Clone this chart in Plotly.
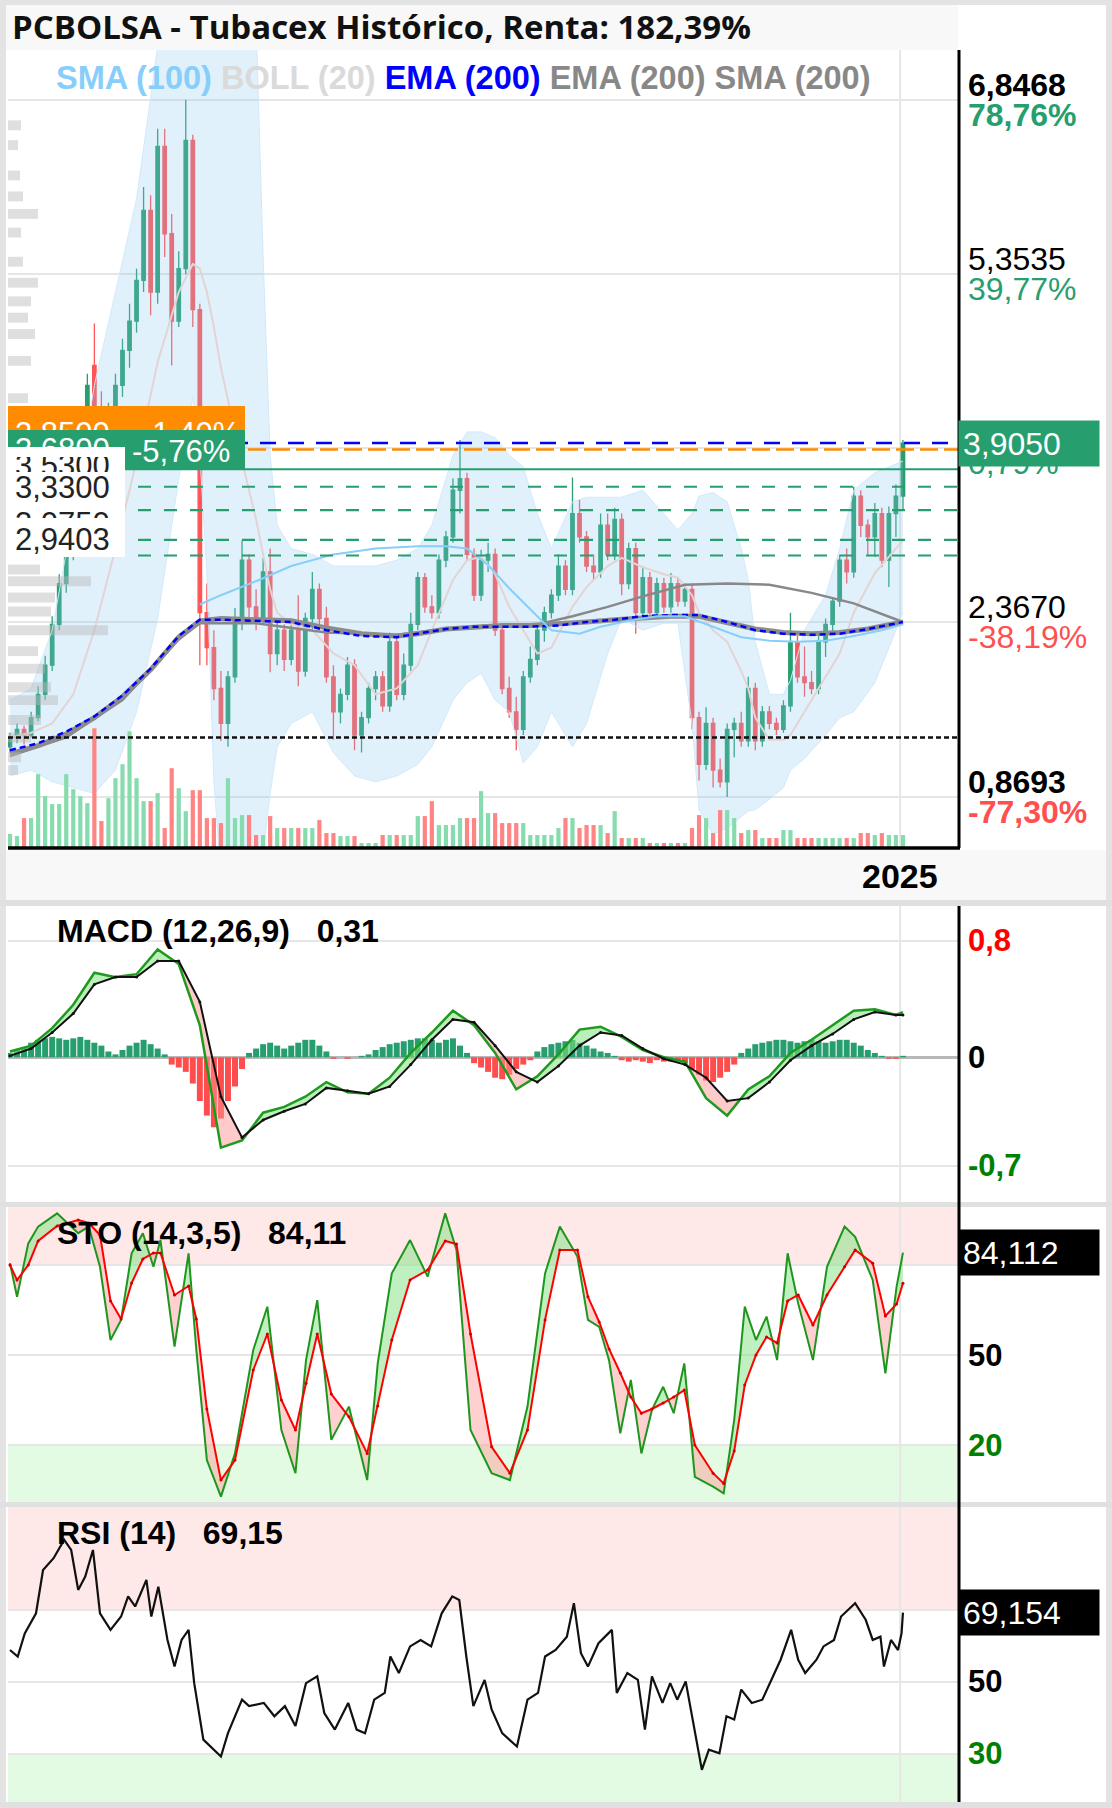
import plotly.graph_objects as go

W, H = 1112, 1808
XL, XR = 8, 958

# ---------------- data ----------------
idx = list(range(128))
open_ = [1.30,1.38,1.45,1.40,1.55,1.75,2.00,2.35,2.70,2.95,
         3.20,3.50,4.57,4.20,4.05,4.15,4.40,4.70,4.95,5.30,
         5.90,5.20,6.45,5.70,4.95,5.40,6.50,5.05,2.45,2.15,
         1.80,1.50,1.90,2.40,2.90,2.50,2.40,2.80,2.10,2.30,
         2.05,2.30,1.95,2.40,2.65,2.40,1.90,1.60,1.75,2.00,
         1.40,1.55,1.80,1.90,1.65,2.20,1.75,2.00,2.35,2.75,
         2.50,2.45,2.90,3.10,3.50,3.60,2.95,2.60,2.90,2.95,
         2.30,1.80,1.60,1.45,1.90,2.05,2.30,2.45,2.60,2.85,
         2.65,3.30,3.10,2.85,2.80,3.20,2.95,3.25,2.70,3.00,
         2.45,2.75,2.45,2.70,2.50,2.70,2.55,2.65,1.55,1.15,
         1.50,1.10,1.00,1.45,1.50,1.35,1.80,1.35,1.60,1.50,
         1.45,1.65,2.20,1.90,1.85,1.80,2.20,2.35,2.55,2.90,
         2.80,3.45,3.20,3.10,3.30,2.90,3.30,3.45]
high = [1.42,1.50,1.48,1.60,1.82,2.08,2.42,2.78,3.02,3.30,
        3.60,4.50,4.93,4.35,4.25,4.50,4.80,5.10,5.40,6.10,
        6.03,6.60,6.60,5.87,5.55,6.85,6.55,5.10,2.70,2.30,
        1.95,1.95,2.49,3.07,2.95,2.65,2.92,3.00,2.40,2.35,
        2.40,2.60,2.45,2.80,2.70,2.50,2.00,1.80,2.07,2.05,
        1.60,1.85,1.95,1.95,2.28,2.25,2.10,2.45,2.80,2.79,
        2.60,2.95,3.15,3.60,3.93,3.65,3.00,2.99,3.05,3.00,
        2.35,1.90,1.73,1.95,2.16,2.35,2.50,2.65,2.95,2.90,
        3.61,3.42,3.15,2.95,3.30,3.30,3.35,3.30,3.05,3.05,
        2.85,2.80,2.75,2.75,2.79,2.75,2.70,2.70,1.60,1.64,
        1.55,1.20,1.50,1.55,1.60,1.90,1.85,1.65,1.65,1.55,
        1.70,2.45,2.25,2.16,1.95,2.25,2.40,2.58,2.95,3.00,
        3.53,3.50,3.25,3.39,3.35,3.36,3.55,3.93]
low = [1.25,1.33,1.32,1.38,1.52,1.70,1.95,2.30,2.62,2.90,
       3.12,3.42,4.15,3.95,3.90,4.05,4.30,4.55,4.85,5.20,
       5.00,5.10,5.50,4.57,4.90,5.35,4.90,2.00,2.00,1.70,
       1.35,1.30,1.85,2.30,2.40,2.30,2.35,1.94,2.00,1.95,
       2.00,1.82,1.90,2.30,2.30,1.85,1.36,1.50,1.70,1.27,
       1.25,1.50,1.70,1.60,1.60,1.70,1.70,1.95,2.30,2.45,
       2.40,2.40,2.84,3.05,3.30,2.90,2.55,2.55,2.80,2.25,
       1.75,1.55,1.27,1.40,1.85,2.00,2.20,2.40,2.55,2.60,
       2.60,3.05,2.80,2.73,2.75,2.90,2.90,2.60,2.65,2.27,
       2.40,2.40,2.40,2.45,2.45,2.50,2.50,1.45,1.01,1.10,
       0.95,0.95,0.87,1.21,1.30,1.30,1.27,1.30,1.45,1.40,
       1.42,1.60,1.85,1.73,1.75,1.75,2.07,2.27,2.50,2.70,
       2.75,3.10,2.95,2.93,2.84,2.67,3.10,3.33]
close = [1.38,1.45,1.40,1.55,1.75,2.00,2.35,2.70,2.95,3.20,
         3.50,4.40,4.20,4.05,4.15,4.40,4.70,4.95,5.30,5.90,
         5.20,6.45,5.70,4.95,5.40,6.50,5.05,2.45,2.15,1.80,
         1.50,1.90,2.40,2.90,2.50,2.40,2.80,2.10,2.30,2.05,
         2.30,1.95,2.40,2.65,2.40,1.90,1.60,1.75,2.00,1.40,
         1.55,1.80,1.90,1.65,2.20,1.75,2.00,2.35,2.75,2.50,
         2.45,2.90,3.10,3.50,3.60,2.95,2.60,2.90,2.95,2.30,
         1.80,1.60,1.45,1.90,2.05,2.30,2.45,2.60,2.85,2.65,
         3.30,3.10,2.85,2.80,3.20,2.95,3.25,2.70,3.00,2.45,
         2.75,2.45,2.70,2.50,2.70,2.55,2.65,1.55,1.15,1.50,
         1.10,1.00,1.45,1.50,1.35,1.80,1.35,1.60,1.50,1.45,
         1.65,2.20,1.90,1.85,1.80,2.20,2.35,2.55,2.90,2.80,
         3.45,3.20,3.10,3.30,2.90,3.30,3.45,3.905]
volume = [1.4,1.2,3.0,3.0,7.4,5.2,4.4,4.4,7.4,5.9,
          5.2,4.5,12.0,2.7,5.0,7.0,8.4,11.7,7.0,4.7,
          4.7,5.5,2.0,8.0,6.0,3.7,5.8,5.8,3.0,3.0,
          2.5,7.0,3.0,3.3,3.3,1.3,1.3,3.2,2.0,2.0,
          2.0,2.0,2.0,2.0,2.8,1.5,1.5,1.2,1.2,1.2,
          0.5,0.5,0.5,1.3,1.3,1.3,1.3,1.3,3.2,3.2,
          4.7,2.3,2.3,2.3,3.0,3.0,3.0,5.7,3.5,3.5,
          2.5,2.5,2.5,2.5,1.3,1.3,1.3,1.3,2.0,3.0,
          3.0,2.0,2.3,2.3,2.3,1.5,3.7,1.0,1.0,1.0,
          1.0,0.5,0.5,0.5,0.5,0.5,0.5,2.0,3.3,3.0,
          1.5,3.8,3.8,3.0,1.5,1.8,1.8,1.0,1.0,1.0,
          1.8,1.8,1.0,1.0,1.0,1.0,1.0,1.0,1.0,1.0,
          1.0,1.5,1.5,1.3,1.5,1.3,1.3,1.3]

# volume-by-price profile (left edge)
vp_price = [6.63,6.46,6.20,6.02,5.87,5.71,5.46,5.28,5.12,4.98,4.84,4.61,4.29,
            2.82,2.72,2.58,2.46,2.30,2.12,1.97,1.81,1.70,1.53,1.38,1.21,1.10]
vp_size = [13,10,12,15,30,13,15,30,23,20,27,23,20,
           32,83,47,43,100,30,37,43,50,33,23,13,10]

# Bollinger (20)
boll_x = [0,3,6,9,12,15,18,21,24,26,27,28,29,30,32,34,35,36,37,38,40,43,46,49,52,55,58,60,63,65,67,69,71,73,75,77,80,82,85,87,90,93,95,97,98,100,102,104,105,106,108,110,111,113,116,118,120,123,127]
boll_up = [1.70,1.80,2.30,3.30,4.40,5.20,6.00,7.30,7.60,7.60,7.70,7.90,8.00,8.00,8.00,7.90,7.50,5.50,3.80,3.20,3.00,2.95,2.85,2.85,2.85,2.90,3.00,3.20,3.80,4.00,4.00,3.95,3.80,3.70,3.30,3.00,3.40,3.44,3.44,3.44,3.50,3.30,3.16,3.30,3.45,3.48,3.40,3.00,2.73,2.20,1.75,1.75,1.87,2.30,2.60,3.00,3.50,3.65,3.75]
boll_lo = [1.05,1.10,1.00,0.95,0.90,1.10,1.60,2.40,3.60,4.30,3.80,2.80,1.00,0.20,0.00,0.10,0.20,0.40,0.90,1.30,1.50,1.60,1.25,1.05,1.00,1.05,1.15,1.30,1.70,1.85,1.93,1.70,1.60,1.16,1.30,1.60,1.30,1.50,2.10,2.40,2.30,2.36,2.36,1.50,0.76,0.55,0.60,0.70,0.75,0.76,0.85,0.95,1.10,1.20,1.40,1.55,1.60,1.85,2.45]
boll_mid = [1.38,1.42,1.50,1.75,2.30,3.00,3.75,4.60,5.20,5.44,5.40,5.20,4.90,4.55,4.00,3.50,3.25,2.95,2.65,2.45,2.35,2.30,2.10,2.00,1.75,1.80,2.00,2.30,2.73,2.90,2.93,2.78,2.50,2.30,2.10,2.15,2.50,2.67,2.85,2.92,2.84,2.78,2.75,2.60,2.45,2.30,2.20,1.95,1.80,1.55,1.36,1.36,1.40,1.60,1.90,2.10,2.45,2.79,3.07]

# SMA (100)
sma100_x = [27,30,35,40,46,52,58,62,65,68,71,74,77,81,84,88,92,96,100,104,108,112,116,120,124,127]
sma100 = [2.52,2.60,2.72,2.85,2.95,3.00,3.02,3.02,3.00,2.86,2.66,2.48,2.30,2.27,2.33,2.38,2.42,2.42,2.33,2.24,2.21,2.20,2.21,2.25,2.30,2.35]
# EMA (200) blue and grey
ema_x = [0,4,8,12,16,20,24,27,30,35,40,45,50,55,58,62,66,70,74,78,82,86,90,94,98,102,106,110,114,118,122,127]
ema_blue = [1.27,1.33,1.43,1.56,1.74,1.97,2.25,2.39,2.39,2.38,2.37,2.30,2.25,2.24,2.27,2.31,2.33,2.33,2.33,2.34,2.37,2.39,2.42,2.43,2.43,2.37,2.30,2.27,2.26,2.27,2.31,2.37]
ema_grey = [1.24,1.31,1.41,1.55,1.73,1.96,2.24,2.38,2.40,2.39,2.38,2.32,2.27,2.25,2.27,2.31,2.33,2.34,2.34,2.35,2.37,2.39,2.41,2.42,2.42,2.37,2.31,2.28,2.27,2.28,2.31,2.37]
# SMA (200)
sma200_x = [0,8,16,24,27,35,45,55,62,68,75,80,85,90,96,102,108,114,120,124,127]
sma200 = [1.22,1.38,1.70,2.22,2.36,2.36,2.28,2.26,2.31,2.34,2.35,2.42,2.50,2.59,2.69,2.70,2.69,2.62,2.53,2.44,2.37]

# horizontal levels
level_last = 3.905
level_orange = 3.85
level_green = 3.68
levels_dashed = [3.53, 3.33, 3.075, 2.9403]
level_black = 1.38

# right price axis
price_ticks = [6.8468, 5.3535, 3.8601, 2.3670, 0.8693]
price_labels = ["6,8468", "5,3535", "3,8601", "2,3670", "0,8693"]
pct_labels = ["78,76%", "39,77%", "0,79%", "-38,19%", "-77,30%"]

# MACD (12,26,9)
osc_x = [0,3,6,9,12,15,18,21,24,27,30,33,36,39,42,45,48,51,54,57,60,63,66,69,72,75,78,81,84,87,90,93,96,99,102,105,108,111,114,117,120,123,126,127]
macd = [0.04,0.08,0.20,0.36,0.58,0.55,0.57,0.74,0.64,0.22,-0.62,-0.57,-0.38,-0.34,-0.27,-0.17,-0.24,-0.25,-0.14,0.03,0.17,0.32,0.22,0.03,-0.22,-0.13,0.02,0.19,0.21,0.14,0.05,0.00,-0.03,-0.28,-0.40,-0.22,-0.13,0.03,0.12,0.22,0.32,0.33,0.29,0.31]
signal = [0.01,0.06,0.17,0.30,0.50,0.55,0.55,0.66,0.66,0.38,-0.27,-0.55,-0.43,-0.37,-0.32,-0.21,-0.23,-0.25,-0.20,-0.05,0.12,0.26,0.24,0.08,-0.10,-0.17,-0.06,0.08,0.17,0.15,0.06,-0.01,-0.05,-0.14,-0.30,-0.28,-0.17,-0.02,0.08,0.16,0.26,0.31,0.29,0.29]
macd_hist = [0.03,0.05,0.07,0.10,0.12,0.13,0.14,0.13,0.12,0.13,0.14,0.12,0.10,0.08,0.04,
             0.02,0.05,0.08,0.10,0.12,0.09,0.06,0.02,
             -0.05,-0.07,-0.10,-0.18,-0.30,-0.40,-0.48,-0.42,-0.30,-0.20,-0.08,
             0.03,0.06,0.09,0.10,0.08,0.06,0.08,0.10,0.12,0.12,0.08,0.04,
             -0.01,0.0,-0.01,0.0,0.01,0.02,
             0.05,0.07,0.09,0.10,0.11,0.12,0.13,0.13,0.12,0.10,0.12,0.13,0.08,0.03,
             -0.04,-0.07,-0.10,-0.14,-0.15,-0.12,-0.08,-0.05,-0.02,
             0.04,0.07,0.09,0.10,0.11,0.12,0.10,0.08,0.06,0.04,0.03,0.01,
             -0.02,-0.03,-0.02,-0.03,-0.04,-0.02,-0.03,-0.03,-0.02,-0.04,-0.08,-0.12,-0.16,-0.17,-0.14,-0.10,-0.05,
             0.03,0.06,0.09,0.10,0.11,0.12,0.12,0.11,0.10,0.11,0.12,0.11,0.10,0.11,0.12,0.12,0.10,0.08,0.05,0.03,0.01,
             -0.01,-0.01,0.01]

# STO (14,3,5)
sto_x = [0,1,2.6,4,6.7,9.7,11.2,12.8,14.3,15.8,17.3,18.9,20.4,21.4,23.4,25.4,26.5,28,30,32,34.6,36.6,38.6,40.6,42.1,43.7,45.7,48.2,50.8,52.3,54.3,56.9,59.4,61.9,63.5,65.5,68.5,71.1,73.6,76.1,78.2,80.7,82.2,83.8,85.2,86.8,88.3,89.8,91.3,92.9,94.4,95.9,97.4,100,101.5,103,104.5,106.1,107.6,109.1,110.6,112.1,114.2,116.2,118.7,120.2,122.7,124.5,126.1,127]
sto_k = [80.6,69.4,87.2,92.8,97.2,90.6,92.8,79.4,55,61.7,83.9,90.6,79.4,88.3,52.8,83.9,51.7,15,2.8,17.2,51.7,66.1,25,10.6,48.3,68.3,21.7,32.8,8.3,47.2,77.2,88.3,76.1,97.2,85,25,10.6,8.3,32.8,77.2,92.8,82.8,61.7,59.4,48.3,23.9,41.7,17.2,31.7,39.4,30.6,47.2,9.4,6.1,3.9,28.3,66.1,55,62.8,48.3,83.9,67.2,48.3,79.4,92.8,89.4,75,43.9,72.8,84.1]
sto_d = [80,75,80,88,93,95,94,90,68,62,74,82,84,84,70,73,62,32,8.3,15,45,57,35,25,40.6,57,37,29.4,17.2,33,55,75,78.3,88,87,57,19.4,10.6,25,61.7,85,85,69.4,61,52,44,36,30.6,32,34,36,38.3,20,10.6,7.2,18,40,50,56,54,68,70,60,70,79.4,85,80.6,63,67,73.9]

# RSI (14)
rsi_x = [0,1.1,2.1,3.7,4.7,6.2,7.7,8.7,9.7,10.7,11.8,12.8,14.3,15.8,16.8,17.8,19.4,20.1,21.1,22.4,23.4,24.4,25.4,26.2,27.5,29,30,31,33,34,36.1,37.6,39.1,40.6,42.1,43.7,44.7,46.2,48.1,49.3,50.5,51.8,53.3,54.1,55.3,56.9,58.4,59.9,61.4,62.9,63.9,64.9,65.9,67.5,68.5,70,72.1,73.6,75.1,76.1,77.6,79.2,80.2,81.2,82.2,83.7,85.6,86.3,87.8,89.3,90.3,91.3,92.8,93.9,94.9,96.1,97.4,98.4,99.4,100.9,101.9,103,104,105.5,107,108.1,109.6,111.1,112.1,113.1,114.7,115.7,117.2,118.2,120.2,121.7,122.7,123.8,124.3,125.3,126.3,126.8,127]
rsi = [58.8,57,63.4,69,81,84.3,89.4,86.6,75.5,79.2,86.6,69,64.4,68.1,73.7,70.9,78.3,68.1,76.4,61.6,54.2,61.6,64.4,49.6,33.9,31.1,29.2,35.7,45,43.2,44.1,40.4,43.2,37.7,49.6,51.5,41.3,36.7,44.1,36.7,35.7,45,46.9,57,52.4,59.8,61.6,59.8,69,73.7,72.7,57,43.2,50.5,42.3,35.7,32,45,46.9,57,58.8,62.5,71.8,57.9,54.2,60.7,64.4,46.9,52.4,50.5,36.7,51.5,44.1,49.6,45,50.1,36.7,25.5,31.1,30.1,40.4,39.5,47.8,44.1,45,49.6,56.1,64.4,56.1,52.4,56.1,59.8,61.6,68.1,71.8,67.2,61.6,62.5,54.2,61.6,58.8,63.4,69.2]

year_tick = 126.6
year_label = "2025"

# ---------------- helpers ----------------
def fx(p):
    return p / W

def fy(p):
    return 1 - p / H

X_RANGE = [-0.284, 134.83]
MAIN_RANGE = [0.4319, 7.2758]
MACD_RANGE = [-0.9925, 1.0377]
STO_RANGE = [1.0, 99.33]
RSI_RANGE = [16.58, 98.53]

GREEN = "#279e6e"
RED = "#ff5555"
FONT = "Liberation Sans"


def fill_polys(xs, a, b):
    gx, gy, rx, ry = [], [], [], []
    for k in range(len(xs) - 1):
        x0, x1 = xs[k], xs[k + 1]
        a0, a1, b0, b1 = a[k], a[k + 1], b[k], b[k + 1]
        d0, d1 = a0 - b0, a1 - b1
        if d0 * d1 < 0:
            t = d0 / (d0 - d1)
            xc = x0 + t * (x1 - x0)
            yc = a0 + t * (a1 - a0)
            parts = [(x0, a0, b0, xc, yc, yc, d0), (xc, yc, yc, x1, a1, b1, d1)]
        else:
            parts = [(x0, a0, b0, x1, a1, b1, d0 + d1)]
        for xa, aa, ba, xb, ab, bb, d in parts:
            pxs = [xa, xb, xb, xa, xa, None]
            pys = [aa, ab, bb, ba, aa, None]
            if d >= 0:
                gx += pxs
                gy += pys
            else:
                rx += pxs
                ry += pys
    return gx, gy, rx, ry


fig = go.Figure()

# ---------------- main panel ----------------
fig.add_trace(go.Scatter(x=boll_x, y=boll_lo, mode="lines", line=dict(color="#d2e9fb", width=1),
                         xaxis="x", yaxis="y", hoverinfo="skip"))
fig.add_trace(go.Scatter(x=boll_x, y=boll_up, mode="lines", line=dict(color="#d2e9fb", width=1),
                         fill="tonexty", fillcolor="rgba(135,200,245,0.25)", xaxis="x", yaxis="y", hoverinfo="skip"))
fig.add_trace(go.Scatter(x=boll_x, y=boll_mid, mode="lines", line=dict(color="#e3d3d3", width=2),
                         xaxis="x", yaxis="y", hoverinfo="skip"))
fig.add_trace(go.Scatter(x=sma200_x, y=sma200, mode="lines", line=dict(color="#888888", width=2.5),
                         xaxis="x", yaxis="y", hoverinfo="skip"))
fig.add_trace(go.Scatter(x=ema_x, y=ema_grey, mode="lines", line=dict(color="#8c8c8c", width=5),
                         xaxis="x", yaxis="y", hoverinfo="skip"))
fig.add_trace(go.Scatter(x=ema_x, y=ema_blue, mode="lines", line=dict(color="#0000ff", width=2.5, dash="6px,4px"),
                         xaxis="x", yaxis="y", hoverinfo="skip"))
fig.add_trace(go.Scatter(x=sma100_x, y=sma100, mode="lines", line=dict(color="#87cefa", width=2),
                         xaxis="x", yaxis="y", hoverinfo="skip"))
fig.add_trace(go.Candlestick(x=idx, open=open_, high=high, low=low, close=close,
                             increasing=dict(line=dict(color=GREEN, width=1.3), fillcolor=GREEN),
                             decreasing=dict(line=dict(color=RED, width=1.3), fillcolor=RED),
                             whiskerwidth=0, xaxis="x", yaxis="y", hoverinfo="skip"))
vol_colors = ["#86dcae" if c >= o else "#ff8585" for o, c in zip(open_, close)]
fig.add_trace(go.Bar(x=idx, y=volume, marker=dict(color=vol_colors, line=dict(width=0)), width=0.6,
                     xaxis="x", yaxis="y2", hoverinfo="skip"))
fig.add_trace(go.Bar(x=vp_size, y=vp_price, orientation="h", width=0.085,
                     marker=dict(color="rgba(185,185,185,0.45)", line=dict(width=0)),
                     xaxis="x2", yaxis="y", hoverinfo="skip"))

# ---------------- MACD ----------------
hist_colors = [GREEN if v >= 0 else "#ff4d4d" for v in macd_hist]
fig.add_trace(go.Bar(x=idx, y=macd_hist, marker=dict(color=hist_colors, line=dict(width=0)), width=0.85,
                     xaxis="x3", yaxis="y3", hoverinfo="skip"))
gx, gy, rx, ry = fill_polys(osc_x, macd, signal)
fig.add_trace(go.Scatter(x=gx, y=gy, fill="toself", fillcolor="rgba(130,225,130,0.55)", mode="lines",
                         line=dict(color="rgba(0,0,0,0)", width=0), xaxis="x3", yaxis="y3", hoverinfo="skip"))
fig.add_trace(go.Scatter(x=rx, y=ry, fill="toself", fillcolor="rgba(255,150,150,0.5)", mode="lines",
                         line=dict(color="rgba(0,0,0,0)", width=0), xaxis="x3", yaxis="y3", hoverinfo="skip"))
fig.add_trace(go.Scatter(x=osc_x, y=macd, mode="lines", line=dict(color="#1e9a1e", width=2.5),
                         xaxis="x3", yaxis="y3", hoverinfo="skip"))
fig.add_trace(go.Scatter(x=osc_x, y=signal, mode="lines+markers", line=dict(color="#111111", width=2),
                         marker=dict(size=3, color="#111111"), xaxis="x3", yaxis="y3", hoverinfo="skip"))

# ---------------- STO ----------------
gx, gy, rx, ry = fill_polys(sto_x, sto_k, sto_d)
fig.add_trace(go.Scatter(x=gx, y=gy, fill="toself", fillcolor="rgba(130,225,130,0.5)", mode="lines",
                         line=dict(color="rgba(0,0,0,0)", width=0), xaxis="x4", yaxis="y4", hoverinfo="skip"))
fig.add_trace(go.Scatter(x=rx, y=ry, fill="toself", fillcolor="rgba(255,150,150,0.45)", mode="lines",
                         line=dict(color="rgba(0,0,0,0)", width=0), xaxis="x4", yaxis="y4", hoverinfo="skip"))
fig.add_trace(go.Scatter(x=sto_x, y=sto_k, mode="lines", line=dict(color="#1e961e", width=2),
                         xaxis="x4", yaxis="y4", hoverinfo="skip"))
fig.add_trace(go.Scatter(x=sto_x, y=sto_d, mode="lines+markers", line=dict(color="#ff0000", width=2),
                         marker=dict(size=3, color="#cc0000"), xaxis="x4", yaxis="y4", hoverinfo="skip"))

# ---------------- RSI ----------------
fig.add_trace(go.Scatter(x=rsi_x, y=rsi, mode="lines", line=dict(color="#111111", width=2.2),
                         xaxis="x5", yaxis="y5", hoverinfo="skip"))

# ---------------- axes ----------------
xcommon = dict(domain=[fx(XL), fx(XR)], range=X_RANGE, showgrid=False, zeroline=False,
               showticklabels=False, ticks="", fixedrange=True)
grid = dict(showticklabels=False, showgrid=True, gridcolor="#e6e6e6", gridwidth=2, zeroline=False,
            ticks="", fixedrange=True)
fig.update_layout(
    width=W, height=H, margin=dict(l=0, r=0, t=0, b=0),
    paper_bgcolor="white", plot_bgcolor="rgba(0,0,0,0)", showlegend=False,
    xaxis=dict(**xcommon, anchor="y", rangeslider=dict(visible=False)),
    yaxis=dict(**grid, domain=[fy(848), fy(50)], range=MAIN_RANGE, tickvals=price_ticks, anchor="x"),
    yaxis2=dict(overlaying="y", range=[0, 80], visible=False, fixedrange=True),
    xaxis2=dict(overlaying="x", range=[0, 950], visible=False, anchor="y", fixedrange=True),
    xaxis3=dict(**xcommon, anchor="y3"),
    yaxis3=dict(showticklabels=False, showgrid=True, gridcolor="#e6e6e6", gridwidth=2, ticks="",
                zeroline=True, zerolinecolor="#b8b8b8", zerolinewidth=3, fixedrange=True,
                domain=[fy(1202), fy(906)], range=MACD_RANGE, tickvals=[0.8, -0.745], anchor="x3"),
    xaxis4=dict(**xcommon, anchor="y4"),
    yaxis4=dict(**grid, domain=[fy(1502), fy(1207)], range=STO_RANGE, tickvals=[20, 50, 80], anchor="x4"),
    xaxis5=dict(**xcommon, anchor="y5"),
    yaxis5=dict(**grid, domain=[fy(1802), fy(1507)], range=RSI_RANGE, tickvals=[30, 50, 70], anchor="x5"),
    barmode="overlay",
)

# ---------------- shapes ----------------
shapes = []

def prect(x0, y0, x1, y1, color, layer="below"):
    shapes.append(dict(type="rect", xref="paper", yref="paper", x0=fx(x0), x1=fx(x1), y0=fy(y1), y1=fy(y0),
                       fillcolor=color, line=dict(width=0), layer=layer))

# frame / backgrounds
prect(0, 0, W, 5, "#e3e3e3")
prect(0, 0, 6, H, "#e3e3e3")
prect(1106, 0, W, H, "#e3e3e3")
prect(6, 5, 958, 50, "#f8f8f8")
prect(6, 850, 1106, 900, "#f8f8f8")
prect(0, 900, W, 906, "#e0e0e0")
prect(0, 1202, W, 1207, "#e0e0e0")
prect(0, 1502, W, 1507, "#e0e0e0")
prect(0, 1802, W, H, "#e0e0e0")

# zones
for yr, lo_, hi_, col in [("y4", 80, STO_RANGE[1], "#ffe8e8"), ("y4", STO_RANGE[0], 20, "#e2fbe2"),
                          ("y5", 70, RSI_RANGE[1], "#ffe8e8"), ("y5", RSI_RANGE[0], 30, "#e2fbe2")]:
    shapes.append(dict(type="rect", xref="paper", yref=yr, x0=fx(XL), x1=fx(XR), y0=lo_, y1=hi_,
                       fillcolor=col, line=dict(width=0), layer="below"))

# year grid line
for y0, y1 in [(50, 848), (906, 1202), (1207, 1502), (1507, 1802)]:
    shapes.append(dict(type="line", xref="x", yref="paper", x0=year_tick, x1=year_tick, y0=fy(y1), y1=fy(y0),
                       line=dict(color="#e6e6e6", width=2), layer="below"))

# level lines
def hline(val, color, dash, width=2.2):
    shapes.append(dict(type="line", xref="paper", yref="y", x0=fx(XL), x1=fx(XR), y0=val, y1=val,
                       line=dict(color=color, width=width, dash=dash), layer="above"))

for v in levels_dashed:
    hline(v, GREEN, "13px,13px")
hline(level_green, GREEN, "solid")
hline(level_orange, "#ff8c00", "18px,6px", 2.5)
hline(level_last, "#0000ff", "16px,12px", 2.5)
hline(level_black, "#111111", "5px,3px", 2.5)

# axis lines
shapes.append(dict(type="line", xref="paper", yref="paper", x0=fx(959), x1=fx(959), y0=fy(848), y1=fy(50),
                   line=dict(color="black", width=3), layer="above"))
shapes.append(dict(type="line", xref="paper", yref="paper", x0=fx(959), x1=fx(959), y0=fy(1802), y1=fy(906),
                   line=dict(color="black", width=3), layer="above"))
shapes.append(dict(type="line", xref="paper", yref="paper", x0=fx(XL), x1=fx(960), y0=fy(848), y1=fy(848),
                   line=dict(color="black", width=3.5), layer="above"))
fig.update_layout(shapes=shapes)

# ---------------- annotations ----------------
ann = []

def text(xp, yp, s, size=31, color="#111", bold=False, family=FONT, xanchor="left", weight=None):
    ann.append(dict(xref="paper", yref="paper", x=fx(xp), y=fy(yp), text=s, showarrow=False,
                    xanchor=xanchor, yanchor="middle",
                    font=dict(family=family, size=size, color=color,
                              weight=weight if weight else ("bold" if bold else "normal"))))

def box(x0, y0, x1, y1, bg):
    ann.append(dict(xref="paper", yref="paper", x=fx(x0), y=fy(y0), xanchor="left", yanchor="top",
                    width=x1 - x0, height=y1 - y0, bgcolor=bg, text="", showarrow=False,
                    borderpad=0, borderwidth=0))

# title and legend
text(10, 27, "PCBOLSA - Tubacex Histórico, Renta: 182,39%", size=33, color="#111", family="Open Sans", weight=700)
legend = ('<span style="color:#87cefa">SMA (100)</span> '
          '<span style="color:#dadada">BOLL (20)</span> '
          '<span style="color:#0000ff">EMA (200)</span> '
          '<span style="color:#888888">EMA (200)</span> '
          '<span style="color:#888888">SMA (200)</span>')
text(54, 78, legend, size=32.5, bold=True)

# right price labels
for v, pl, pc in zip(price_ticks, price_labels, pct_labels):
    b = v in (price_ticks[0], price_ticks[-1])
    pcol = GREEN if not pc.startswith("-") else "#ff5050"
    ann.append(dict(xref="paper", yref="y", x=fx(966), y=v, yshift=15, text=pl, showarrow=False,
                    xanchor="left", yanchor="middle",
                    font=dict(family=FONT, size=32, color="#000", weight="bold" if b else "normal")))
    ann.append(dict(xref="paper", yref="y", x=fx(966), y=v, yshift=-15, text=pc, showarrow=False,
                    xanchor="left", yanchor="middle",
                    font=dict(family=FONT, size=32, color=pcol, weight="bold" if b else "normal")))

def value_box(yref, val, s, bg):
    ann.append(dict(xref="paper", yref=yref, x=fx(958), y=val, xanchor="left", yanchor="middle",
                    width=132, height=37, borderpad=4, bgcolor=bg, text=s, align="left", showarrow=False,
                    font=dict(family=FONT, size=32, color="white")))

value_box("y", level_last, "3,9050", GREEN)

# left level labels (overlapping stack, as in the source)
box(8, 406, 245, 440, "#ff8c00")
text(13, 433, "3,8500", color="white")
text(140, 433, "-1,40%", color="white")
box(8, 430, 245, 469, GREEN)
text(13, 450, "3,6800", color="white")
text(130, 451, "-5,76%", color="white")
box(8, 447, 125, 557, "white")
text(13, 465, "3,5300", color="#222")
box(8, 447, 125, 457, "white")
box(8, 472, 125, 500, "white")
text(13, 488, "3,3300", color="#222")
box(8, 508, 125, 536, "white")
text(13, 524, "3,0750", color="#222")
box(8, 518, 125, 557, "white")
text(13, 539, "2,9403", color="#222")

# year label
ann.append(dict(xref="x", yref="paper", x=year_tick, y=fy(876), text=year_label, showarrow=False,
                xanchor="center", yanchor="middle", font=dict(family=FONT, size=34, color="#000", weight="bold")))

# indicator titles
text(55, 931, "MACD (12,26,9)\u00a0\u00a0\u00a00,31", size=32, bold=True, color="#000")
text(55, 1233, "STO (14,3,5)\u00a0\u00a0\u00a084,11", size=32, bold=True, color="#000")
text(55, 1533, "RSI (14)\u00a0\u00a0\u00a069,15", size=32, bold=True, color="#000")

def axis_label(yref, val, s, color):
    ann.append(dict(xref="paper", yref=yref, x=fx(966), y=val, text=s, showarrow=False, xanchor="left",
                    yanchor="middle", font=dict(family=FONT, size=31, color=color, weight="bold")))

axis_label("y3", 0.8, "0,8", "#ff0000")
axis_label("y3", 0, "0", "#000")
axis_label("y3", -0.745, "-0,7", "#008000")
axis_label("y4", 80, "80", "#ff0000")
axis_label("y4", 50, "50", "#000")
axis_label("y4", 20, "20", "#008000")
axis_label("y5", 70, "70", "#ff0000")
axis_label("y5", 50, "50", "#000")
axis_label("y5", 30, "30", "#008000")
value_box("y4", 84.112, "84,112", "#000")
value_box("y5", 69.154, "69,154", "#000")

fig.update_layout(annotations=ann)

fig.write_html("out.html", config={"displayModeBar": False, "staticPlot": True})
